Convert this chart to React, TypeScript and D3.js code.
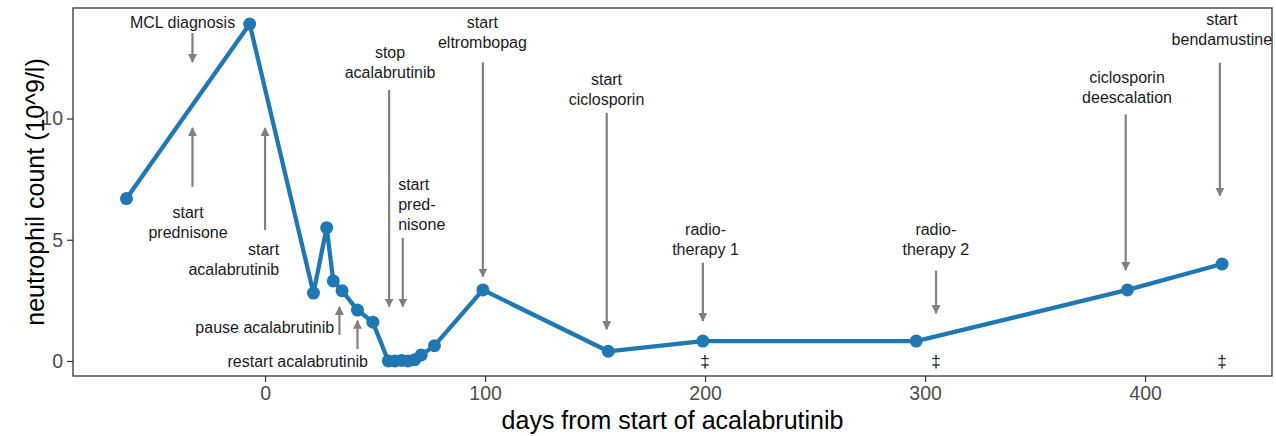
import React, { useEffect, useRef } from 'react';
import * as d3 from 'd3';

// neutrophil counts
const days = [-63, -7, 22, 28, 31, 35, 42, 49, 56, 59, 62, 65, 68, 71, 77, 99, 156, 199, 296, 392, 435];
const counts = [6.7, 13.9, 2.8, 5.5, 3.3, 2.9, 2.1, 1.6, 0, 0, 0.02, 0, 0.05, 0.25, 0.63, 2.93, 0.4, 0.82, 0.82, 2.93, 4.0];

const xTicks = [0, 100, 200, 300, 400];
const yTicks = [0, 5, 10];

// event arrows (day, from value, to value)
const arrowDays = [-33, -33, 0, 33.8, 42, 56.4, 62.6, 99, 155.3, 199, 305, 391.2, 434];
const arrowFrom = [13.53, 7.18, 5.4, 1.07, 0.49, 11.18, 5.08, 12.32, 10.24, 4.05, 3.72, 10.17, 12.3];
const arrowTo = [12.33, 9.61, 9.61, 2.23, 1.66, 2.24, 2.24, 3.48, 1.31, 1.65, 1.97, 3.75, 6.82];

// event labels
const labelText = [
  ['MCL diagnosis'],
  ['start', 'prednisone'],
  ['start', 'acalabrutinib'],
  ['pause acalabrutinib'],
  ['restart acalabrutinib'],
  ['stop', 'acalabrutinib'],
  ['start', 'pred-', 'nisone'],
  ['start', 'eltrombopag'],
  ['start', 'ciclosporin'],
  ['radio-', 'therapy 1'],
  ['radio-', 'therapy 2'],
  ['ciclosporin', 'deescalation'],
  ['start', 'bendamustine'],
];
const labelDays = [-37.5, -35, 6.4, 31.4, 46.8, 56.8, 60.5, 98.8, 155.2, 200.2, 304.9, 391.8, 434.9];
const labelValues = [13.98, 6.14, 4.58, 1.4, -0.04, 12.71, 7.26, 13.95, 11.62, 5.44, 5.44, 11.7, 14.1];
const labelAnchor = ['middle', 'middle', 'end', 'end', 'end', 'middle', 'start', 'middle', 'middle', 'middle', 'middle', 'middle', 'middle'];

// radiotherapy markers
const daggerDays = [200, 305, 435];

const App = () => {
  const node = useRef<SVGSVGElement>(null);

  useEffect(() => {
    const width = 1276, height = 436;
    const left = 73, right = 1272, top = 8, bottom = 376;
    const font = "'Liberation Sans', Arial, sans-serif";

    const svg = d3.select(node.current);
    svg.selectAll('*').remove();
    svg.attr('width', width).attr('height', height);

    const x = d3.scaleLinear().domain([-87.3, 457.7]).range([left, right]);
    const y = d3.scaleLinear().domain([-0.62, 14.56]).range([bottom, top]);

    svg.append('defs')
      .append('marker')
        .attr('id', 'head')
        .attr('viewBox', '0 0 10 10')
        .attr('refX', 9)
        .attr('refY', 5)
        .attr('markerUnits', 'userSpaceOnUse')
        .attr('markerWidth', 9)
        .attr('markerHeight', 9)
        .attr('orient', 'auto')
      .append('path')
        .attr('d', 'M0,0 L10,5 L0,10 Z')
        .attr('fill', '#808080');

    // axes
    const xAxis = svg.append('g')
      .attr('transform', `translate(0,${bottom})`)
      .call(d3.axisBottom(x).tickValues(xTicks).tickSize(6).tickPadding(4));
    const yAxis = svg.append('g')
      .attr('transform', `translate(${left},0)`)
      .call(d3.axisLeft(y).tickValues(yTicks).tickSize(6).tickPadding(4));

    [xAxis, yAxis].forEach((g) => {
      g.select('.domain').remove();
      g.selectAll('line').attr('stroke', '#333333').attr('stroke-width', 1.2);
      g.selectAll('text')
        .style('font-family', font)
        .style('font-size', '19.5px')
        .attr('fill', '#4d4d4d');
    });

    svg.append('rect')
      .attr('x', left)
      .attr('y', top)
      .attr('width', right - left)
      .attr('height', bottom - top)
      .attr('fill', 'none')
      .attr('stroke', '#333333')
      .attr('stroke-width', 1.3);

    // arrows
    svg.append('g')
      .selectAll('line')
      .data(arrowDays)
      .enter()
        .append('line')
        .attr('x1', (d) => x(d))
        .attr('x2', (d) => x(d))
        .attr('y1', (d, i) => y(arrowFrom[i]))
        .attr('y2', (d, i) => y(arrowTo[i]))
        .attr('stroke', '#808080')
        .attr('stroke-width', 2.2)
        .attr('marker-end', 'url(#head)');

    // series
    const pts = days.map((d, i) => [d, counts[i]] as [number, number]);
    svg.append('path')
      .datum(pts)
      .attr('d', d3.line().x((d) => x(d[0])).y((d) => y(d[1])))
      .attr('fill', 'none')
      .attr('stroke', '#1f77b4')
      .attr('stroke-width', 4.3)
      .attr('stroke-linejoin', 'round');

    svg.append('g')
      .selectAll('circle')
      .data(pts)
      .enter()
        .append('circle')
        .attr('cx', (d) => x(d[0]))
        .attr('cy', (d) => y(d[1]))
        .attr('r', 6.5)
        .attr('fill', '#1f77b4');

    // labels
    const labels = svg.append('g')
      .selectAll('text')
      .data(labelText)
      .enter()
        .append('text')
        .attr('text-anchor', (d, i) => labelAnchor[i])
        .style('font-family', font)
        .style('font-size', '16px')
        .attr('fill', '#1a1a1a');

    labels.each(function (lines, i) {
      lines.forEach((line, j) => {
        d3.select(this)
          .append('tspan')
          .attr('x', x(labelDays[i]))
          .attr('y', y(labelValues[i]) + j * 20 + 5.5)
          .text(line);
      });
    });

    svg.append('g')
      .selectAll('text')
      .data(daggerDays)
      .enter()
        .append('text')
        .attr('x', (d) => x(d))
        .attr('y', y(0) + 6.5)
        .attr('text-anchor', 'middle')
        .style('font-family', font)
        .style('font-size', '17px')
        .attr('fill', '#1a1a1a')
        .text('‡');

    // titles
    svg.append('text')
      .attr('x', (left + right) / 2)
      .attr('y', 429)
      .attr('text-anchor', 'middle')
      .style('font-family', font)
      .style('font-size', '25px')
      .attr('fill', '#000')
      .text('days from start of acalabrutinib');

    svg.append('text')
      .attr('transform', `translate(44,${(top + bottom) / 2}) rotate(-90)`)
      .attr('text-anchor', 'middle')
      .style('font-family', font)
      .style('font-size', '25px')
      .attr('fill', '#000')
      .text('neutrophil count (10^9/l)');
  }, []);

  return (
    <svg ref={node} style={{ position: 'absolute', left: 0, top: 0, background: '#fff' }}></svg>
  );
};

export default App;
